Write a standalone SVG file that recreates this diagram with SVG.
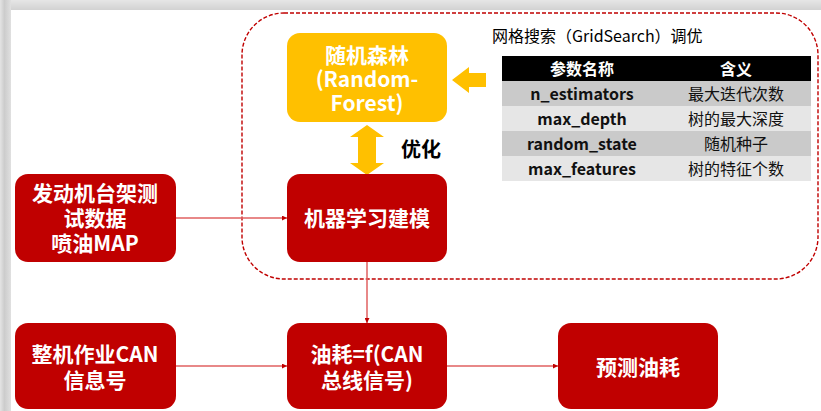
<svg xmlns="http://www.w3.org/2000/svg" width="821" height="411" viewBox="0 0 821 411">
<defs>
<linearGradient id="gl" x1="0" y1="0" x2="1" y2="0">
<stop offset="0" stop-color="#e4e4e4"/><stop offset="0.4" stop-color="#cccccc"/><stop offset="1" stop-color="#e0e0e0"/>
</linearGradient>
<linearGradient id="gt" x1="0" y1="0" x2="0" y2="1">
<stop offset="0" stop-color="#e6e6e6"/><stop offset="1" stop-color="#d2d2d2"/>
</linearGradient>
<marker id="ah" viewBox="0 0 10 10" refX="10" refY="5" markerWidth="5" markerHeight="5" orient="auto" markerUnits="userSpaceOnUse">
<path d="M0,0 L10,5 L0,10 z" fill="#c00000"/>
</marker>
</defs>
<style>
.red{fill:#c00000}
.yel{fill:#ffc000}
.bt{font-family:"Noto Sans CJK SC","Noto Sans",sans-serif;font-weight:bold;font-size:21px;fill:#ffffff;text-anchor:middle}
.tt{font-family:"Noto Sans CJK SC","Noto Sans",sans-serif;font-size:16px;fill:#000000}
.th{font-family:"Noto Sans CJK SC","Noto Sans",sans-serif;font-size:16px;font-weight:bold;fill:#ffffff;text-anchor:middle;dominant-baseline:central}
.tp{font-family:"Noto Sans CJK SC","Noto Sans",sans-serif;font-size:16px;font-weight:bold;fill:#111111;text-anchor:middle;dominant-baseline:central}
.tm{font-family:"Noto Sans CJK SC","Noto Sans",sans-serif;font-size:16px;fill:#111111;text-anchor:middle;dominant-baseline:central}
.con{stroke:#e06060;stroke-width:1.5;fill:none}
</style>
<rect x="0" y="0" width="821" height="411" fill="#ffffff"/>
<rect x="0" y="0" width="821" height="10" fill="url(#gt)"/>
<rect x="0" y="0" width="11" height="411" fill="url(#gl)"/>

<rect id="region" x="242" y="13" width="576" height="266" rx="42" ry="42" fill="none" stroke="#c00000" stroke-width="1.4" stroke-dasharray="4,2"/>

<g id="connectors">
<line class="con" x1="176" y1="218" x2="287" y2="218" marker-end="url(#ah)"/>
<line class="con" x1="367" y1="262" x2="367" y2="323" marker-end="url(#ah)"/>
<line class="con" x1="176" y1="366" x2="287" y2="366" marker-end="url(#ah)"/>
<line class="con" x1="447" y1="366" x2="558" y2="366" marker-end="url(#ah)"/>
<path class="yel" d="M452,80 L469,67 L469,73 L486,73 L486,87 L469,87 L469,93 Z"/>
<path class="yel" d="M367,125 L384,137 L376,137 L376,163 L384,163 L367,175 L350,163 L358,163 L358,137 L350,137 Z"/>
</g>

<g id="rf">
<rect class="yel" x="287" y="33" width="160" height="89" rx="13"/>
<text class="bt"><tspan x="367" y="63">随机森林</tspan><tspan x="367" y="87">(Random-</tspan><tspan x="367" y="111">Forest)</tspan></text>
</g>

<g id="opt">
<text x="421" y="148" style="font-family:'Noto Sans CJK SC',sans-serif;font-weight:bold;font-size:20px;fill:#000;text-anchor:middle;dominant-baseline:central">优化</text>
</g>

<g id="ml">
<rect class="red" x="287" y="174" width="160" height="88" rx="13"/>
<text class="bt" x="367" y="226">机器学习建模</text>
</g>

<g id="bench">
<rect class="red" x="15" y="174" width="161" height="88" rx="13"/>
<text class="bt"><tspan x="95" y="201">发动机台架测</tspan><tspan x="95" y="226">试数据</tspan><tspan x="95" y="251">喷油MAP</tspan></text>
</g>

<g id="can">
<rect class="red" x="15" y="323" width="161" height="86" rx="13"/>
<text class="bt"><tspan x="95" y="362">整机作业CAN</tspan><tspan x="95" y="388">信息号</tspan></text>
</g>

<g id="func">
<rect class="red" x="287" y="323" width="160" height="86" rx="13"/>
<text class="bt"><tspan x="367" y="362">油耗=f(CAN</tspan><tspan x="367" y="388">总线信号)</tspan></text>
</g>

<g id="pred">
<rect class="red" x="558" y="323" width="160" height="86" rx="13"/>
<text class="bt" x="638" y="375">预测油耗</text>
</g>

<g id="gridsearch">
<text class="tt" x="492" y="42">网格搜索（GridSearch）调优</text>
<rect x="502" y="56" width="309" height="25" fill="#000000"/>
<rect x="502" y="81" width="309" height="25" fill="#cacaca"/>
<rect x="502" y="106" width="309" height="25" fill="#e6e6e6"/>
<rect x="502" y="131" width="309" height="25" fill="#cacaca"/>
<rect x="502" y="156" width="309" height="25" fill="#e6e6e6"/>
<text class="th" x="582" y="68">参数名称</text>
<text class="th" x="736" y="68">含义</text>
<text class="tp" x="582" y="93">n_estimators</text>
<text class="tm" x="736" y="93">最大迭代次数</text>
<text class="tp" x="582" y="118">max_depth</text>
<text class="tm" x="736" y="118">树的最大深度</text>
<text class="tp" x="582" y="143">random_state</text>
<text class="tm" x="736" y="143">随机种子</text>
<text class="tp" x="582" y="168">max_features</text>
<text class="tm" x="736" y="168">树的特征个数</text>
</g>
</svg>
